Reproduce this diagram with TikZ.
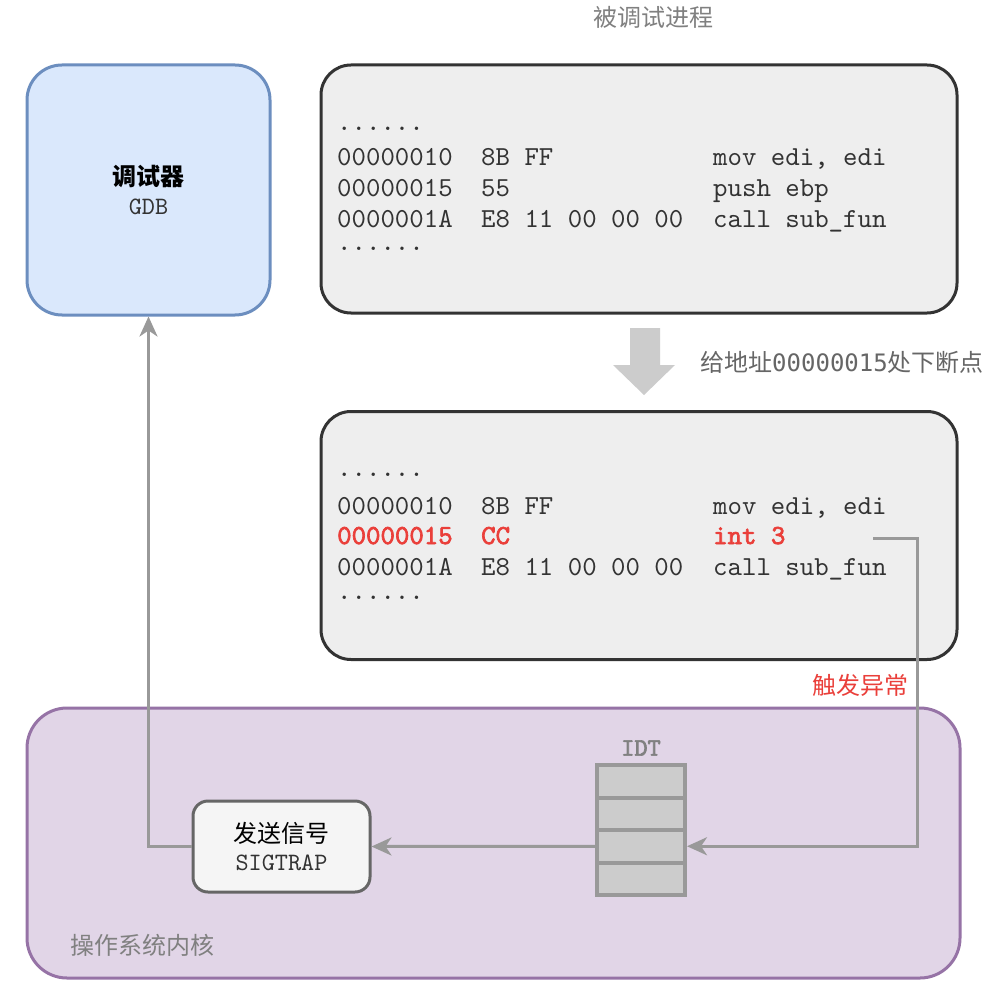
\documentclass[tikz,border=0pt]{standalone}
\usepackage{fontspec}
\newfontfamily\cmono{lmmono10-regular.otf}[BoldFont=lmmono10-regular.otf, BoldFeatures={FakeBold=2.5}]
\newfontfamily\cjk{Noto Sans CJK SC}
\newfontfamily\dmono{DejaVu Sans Mono}
\usetikzlibrary{arrows.meta}
\definecolor{dbgfill}{HTML}{DAE8FC}
\definecolor{dbgline}{HTML}{6C8EBF}
\definecolor{procfill}{HTML}{EEEEEE}
\definecolor{procline}{HTML}{333333}
\definecolor{kfill}{HTML}{E1D5E7}
\definecolor{kline}{HTML}{9673A6}
\definecolor{sfill}{HTML}{F5F5F5}
\definecolor{sline}{HTML}{666666}
\definecolor{idtfill}{HTML}{CCCCCC}
\definecolor{idtline}{HTML}{999999}
\definecolor{connc}{HTML}{999999}
\definecolor{redc}{HTML}{EA3F3A}
\definecolor{txt}{HTML}{333333}
\definecolor{graytxt}{HTML}{808080}
\newcommand{\codefont}{\fontsize{27.5}{31}\selectfont\cmono}
\newcommand{\hl}{\leavevmode\color{redc}\bfseries}
\tikzset{
  box/.style={draw, line width=3pt, inner sep=0pt},
  dbgbox/.style={box, fill=dbgfill, draw=dbgline, rounded corners=35pt, minimum width=243pt, minimum height=250pt, align=center, font=\fontsize{24}{29}\selectfont},
  procbox/.style={box, fill=procfill, draw=procline, rounded corners=30pt, minimum width=636pt, minimum height=248pt},
  kbox/.style={box, fill=kfill, draw=kline, rounded corners=40pt, minimum width=933pt, minimum height=270pt},
  sigbox/.style={box, fill=sfill, draw=sline, rounded corners=15pt, minimum width=177pt, minimum height=91pt, align=center, font=\fontsize{24}{28}\selectfont},
  idtcell/.style={draw=idtline, fill=idtfill, line width=4pt, minimum width=88pt, minimum height=32.5pt, inner sep=0pt},
  code/.style={anchor=base west, inner sep=0pt, text=txt, font=\codefont},
  conn/.style={draw=connc, line width=3pt, -{Stealth[length=20pt, width=18pt, inset=6pt]}},
}
\begin{document}
\begin{tikzpicture}[x=1pt, y=-1pt]
\path[use as bounding box, fill=white] (0,0) rectangle (993,1000);

% title
\node[font=\fontsize{24}{28}\selectfont\cjk, text=graytxt] (title) at (653,17) {被调试进程};

% debugger
\node[dbgbox] (dbg) at (148.5,190) {{\cjk\bfseries 调试器}\\{\codefont\fontsize{25}{29}\selectfont\color{txt}GDB}};

% process box 1
\node[procbox] (p1) at (639,189) {};
\node[code] (code1) at (337,131) {\begin{tabular}[t]{@{}p{144pt}@{}p{232pt}@{}l@{}}
......&&\\[4pt]
00000010&8B FF&mov edi, edi\\
00000015&55&push ebp\\
0000001A&E8 11 00 00 00&call sub\_fun\\[-8pt]
......&&
\end{tabular}};

% big arrow
\fill[idtfill] (630,328) -- (660,328) -- (660,365) -- (675,365) -- (644,395) -- (613,365) -- (630,365) -- cycle;
\node[anchor=west, inner sep=0pt, text=sline, font=\fontsize{24}{28}\selectfont\cjk] (bplabel) at (700,362) {给地址{\dmono 00000015}处下断点};

% process box 2
\node[procbox] (p2) at (639,535.5) {};
\node[code] (code2) at (337,476) {\begin{tabular}[t]{@{}p{144pt}@{}p{232pt}@{}l@{}}
......&&\\[7pt]
00000010&8B FF&mov edi, edi\\[-1pt]
\hl 00000015&\hl CC&\hl int 3\\
0000001A&E8 11 00 00 00&call sub\_fun\\[-7pt]
......&&
\end{tabular}};

% kernel
\node[kbox] (kern) at (493.5,843) {};
\node[anchor=west, inner sep=0pt, text=graytxt, font=\fontsize{24}{28}\selectfont\cjk] (klabel) at (70,945) {操作系统内核};

% signal box
\node[sigbox] (sig) at (281.5,846.5) {{\cjk 发送信号}\\{\codefont\fontsize{25}{28}\selectfont\color{txt}SIGTRAP}};

% IDT
\node[idtcell] (idt1) at (641,781.25) {};
\node[idtcell] (idt2) at (641,813.75) {};
\node[idtcell] (idt3) at (641,846.25) {};
\node[idtcell] (idt4) at (641,878.75) {};
\node[text=graytxt, font=\fontsize{25}{28}\selectfont\cmono\bfseries, inner sep=0pt] (idtlabel) at (641,748) {IDT};

% trigger label
\node[text=redc, font=\fontsize{24}{28}\selectfont\cjk, inner sep=0pt] (trig) at (860,685) {触发异常};

% connectors
\coordinate (int3end) at (873,538);
\coordinate (bend) at (917,538);
\draw[conn] (int3end) -- (bend) |- (idt3.east);
\draw[conn] (idt3.west) -- (sig.east);
\draw[conn] (sig.west) -| (dbg.south);
\end{tikzpicture}
\end{document}
